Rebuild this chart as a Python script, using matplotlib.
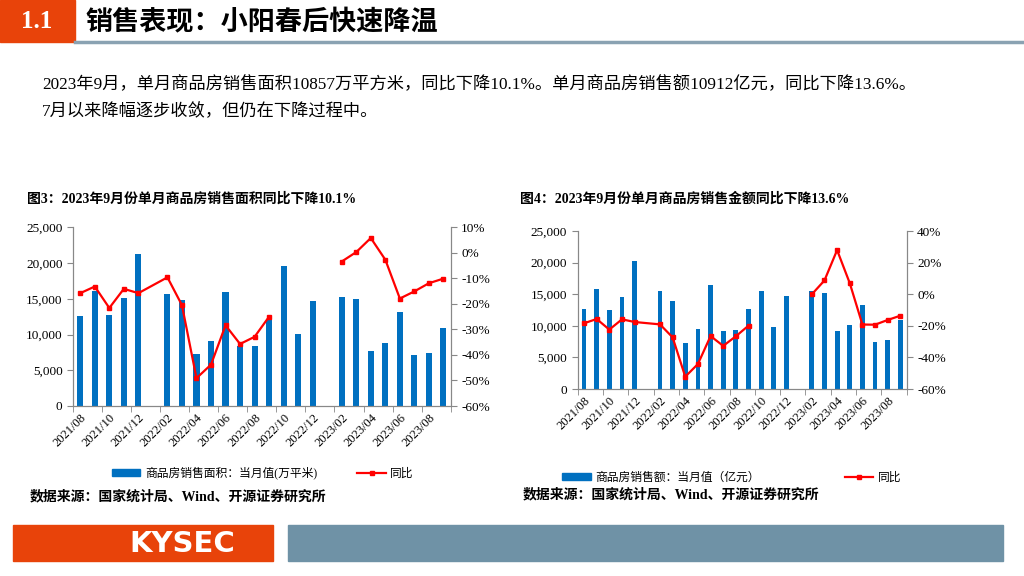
import numpy as np
import matplotlib
matplotlib.use("Agg")
import matplotlib.pyplot as plt
from matplotlib.patches import Rectangle, Patch
from matplotlib.lines import Line2D
from matplotlib.ticker import FuncFormatter

plt.rcParams['font.family'] = ['Liberation Serif', 'Noto Sans CJK SC', 'DejaVu Sans']

months = ['2021/08', '2021/09', '2021/10', '2021/11', '2021/12', '2022/01', '2022/02',
          '2022/03', '2022/04', '2022/05', '2022/06', '2022/07', '2022/08', '2022/09',
          '2022/10', '2022/11', '2022/12', '2023/01', '2023/02', '2023/03', '2023/04',
          '2023/05', '2023/06', '2023/07', '2023/08', '2023/09']

nan = np.nan
# 商品房销售面积 当月值 (万平米) and 同比 (%)
area = [12547, 16091, 12687, 15065, 21315, nan, 15672, 14785, 7276, 9049, 15998, 8349,
        8396, 12150, 19530, 10140, 14670, nan, 15187, 14907, 7757, 8879, 13178, 7103,
        7430, 10857]
area_yoy = [-15.8, -13.2, -21.6, -14.1, -15.8, nan, -9.6, -20.5, -49.1, -43.8, -28.4, -35.7,
            -32.9, -25.0, nan, nan, nan, nan, -3.4, 0.3, 5.8, -2.7, -17.9, -15.1,
            -11.9, -10.1]
# 商品房销售额 当月值 (亿元) and 同比 (%)
sales = [12605, 15770, 12447, 14504, 20306, nan, 15506, 13924, 7226, 9441, 16508, 9177,
         9283, 12711, 15506, 9863, 14662, nan, 15506, 15137, 9230, 10074, 13344, 7437,
         7753, 10912]
sales_yoy = [-18.4, -15.7, -22.4, -15.9, -17.6, nan, -19.1, -27.3, -52.2, -44.2, -26.5, -32.7,
             -26.6, -19.9, nan, nan, nan, nan, -0.1, 8.7, 27.9, 7.0, -19.2, -19.3,
             -16.3, -13.6]

BLUE = '#0070C0'
RED = '#FF0000'
ORANGE = '#E8430A'
STEEL = '#6F92A6'
W, H = 1024, 576


def px(x, y):
    return x / W, 1 - y / H


fig = plt.figure(figsize=(10.24, 5.76), dpi=100)

# header
fig.patches.append(Rectangle(px(0, 42), 75 / W, 42 / H, transform=fig.transFigure,
                             color=ORANGE, zorder=1))
fig.text(*px(37, 22), '1.1', color='white', fontsize=18, fontweight='bold',
         ha='center', va='center')
fig.lines.append(Line2D([75 / W, 1], [1 - 42 / H] * 2, transform=fig.transFigure,
                        color='#8AA2B2', lw=2.5))
fig.text(*px(85, 22), '销售表现：小阳春后快速降温', fontsize=19.5, fontweight='bold',
         ha='left', va='center', family=['Noto Sans CJK SC'])

fig.text(*px(42, 85), '2023年9月，单月商品房销售面积10857万平方米，同比下降10.1%。'
         '单月商品房销售额10912亿元，同比下降13.6%。',
         fontsize=12.4, ha='left', va='center')
fig.text(*px(42, 112), '7月以来降幅逐步收敛，但仍在下降过程中。',
         fontsize=12.4, ha='left', va='center')

fig.text(*px(27, 199), '图3：2023年9月份单月商品房销售面积同比下降10.1%',
         fontsize=10, fontweight='bold', ha='left', va='center')
fig.text(*px(520, 199), '图4：2023年9月份单月商品房销售金额同比下降13.6%',
         fontsize=10, fontweight='bold', ha='left', va='center')


def draw(rect, bars, yoy, ylim2, yticks2, barw, bar_label, leg_xy, colspace):
    ax = fig.add_axes(rect)
    x = np.arange(len(months))
    ax.bar(x, bars, width=barw, color=BLUE, zorder=2)
    ax.set_xlim(-0.5, len(months) - 0.5)
    ax.set_ylim(0, 25000)
    ax.set_yticks(np.arange(0, 25001, 5000))
    ax.yaxis.set_major_formatter(FuncFormatter(lambda v, p: f'{int(v):,}'))
    ax.set_xticks(x[::2])
    ax.set_xticklabels(months[::2], rotation=45, ha='right', rotation_mode='anchor')
    ax.set_xticks(np.arange(-0.5, len(months), 2), minor=True)
    ax.tick_params(axis='x', which='major', length=0, labelsize=9, pad=4)
    ax.tick_params(axis='x', which='minor', length=4, color='#888888')
    ax.tick_params(axis='y', labelsize=9.5, length=4, color='#888888')
    ax2 = ax.twinx()
    # the line bridges the single missing January point, but breaks on longer gaps
    y = np.array(yoy, dtype=float)
    ok = np.where(~np.isnan(y))[0]
    runs = np.split(ok, np.where(np.diff(ok) > 2)[0] + 1)
    for r in runs:
        ax2.plot(x[r], y[r], color=RED, lw=1.6, marker='s', ms=3.5, zorder=3)
    ax2.set_ylim(*ylim2)
    ax2.set_yticks(yticks2)
    ax2.yaxis.set_major_formatter(FuncFormatter(lambda v, p: f'{int(v)}%'))
    ax2.tick_params(axis='y', labelsize=9.5, length=4, color='#888888')
    for a in (ax, ax2):
        a.spines['top'].set_visible(False)
        for s in ('left', 'right', 'bottom'):
            a.spines[s].set_color('#888888')
            a.spines[s].set_linewidth(0.8)
    handles = [Patch(color=BLUE, label=bar_label),
               Line2D([], [], color=RED, lw=1.6, marker='s', ms=3, label='同比')]
    fig.legend(handles=handles, loc='center', bbox_to_anchor=px(*leg_xy), ncol=2,
               frameon=False, fontsize=8.5, handlelength=2.4, handleheight=0.5,
               columnspacing=colspace, handletextpad=0.4)
    return ax


draw([73 / W, 1 - 406 / H, 377.7 / W, 178.7 / H], area, area_yoy,
     (-60, 10), np.arange(-60, 11, 10), 0.42, '商品房销售面积：当月值(万平米)',
     (263, 473), 3.4)
draw([577.7 / W, 1 - 389 / H, 329 / W, 158 / H], sales, sales_yoy,
     (-60, 40), np.arange(-60, 41, 20), 0.38, '商品房销售额：当月值（亿元）',
     (732, 478), 7.2)

fig.text(*px(30, 497), '数据来源：国家统计局、Wind、开源证券研究所',
         fontsize=10, fontweight='bold', ha='left', va='center')
fig.text(*px(523, 495), '数据来源：国家统计局、Wind、开源证券研究所',
         fontsize=10, fontweight='bold', ha='left', va='center')

# footer
fig.patches.append(Rectangle(px(13, 561), 260 / W, 36 / H, transform=fig.transFigure,
                             color=ORANGE))
fig.text(*px(182, 544), 'KYSEC', color='white', fontsize=21, fontweight='bold',
         ha='center', va='center', family=['DejaVu Sans'])
fig.patches.append(Rectangle(px(288, 561), 715 / W, 36 / H, transform=fig.transFigure,
                             color=STEEL))

fig.savefig('out.png', dpi=100)
